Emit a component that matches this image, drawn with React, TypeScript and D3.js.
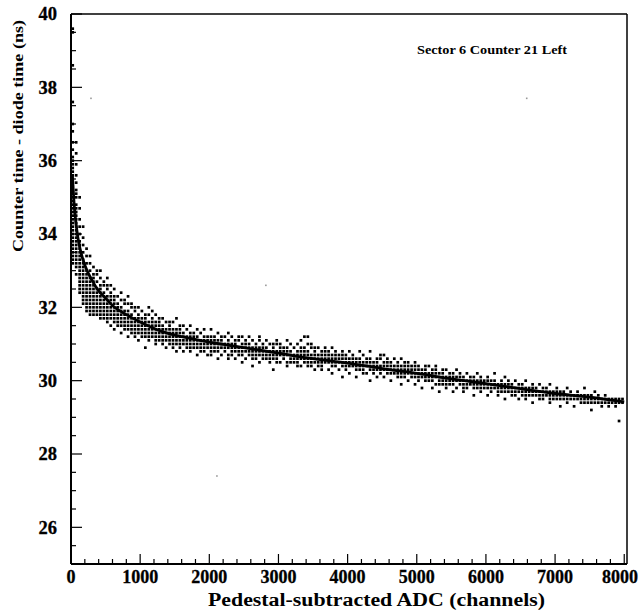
import React from "react";
import * as d3 from "d3";

const xTicks = [0, 1000, 2000, 3000, 4000, 5000, 6000, 7000, 8000];
const yTicks = [26, 28, 30, 32, 34, 36, 38, 40];

const fitX = [20, 50, 100, 150, 200, 300, 400, 500, 600, 800, 1000, 1300, 1600, 2000, 2500, 3000, 3500, 4000, 4500, 5000, 5500, 6000, 6500, 7000, 7500, 8000];
const fitY = [35.6, 34.7, 33.9, 33.45, 33.15, 32.75, 32.45, 32.25, 32.05, 31.8, 31.6, 31.35, 31.2, 31.05, 30.9, 30.75, 30.6, 30.48, 30.33, 30.2, 30.05, 29.92, 29.78, 29.65, 29.55, 29.42];

const binX = [
  25, 75, 125, 175, 225, 275, 325, 375, 425, 475, 525, 575, 625, 675, 725, 775, 825, 875, 925, 975,
  1025, 1075, 1125, 1175, 1225, 1275, 1325, 1375, 1425, 1475, 1525, 1575, 1625, 1675, 1725, 1775, 1825, 1875, 1925, 1975,
  2025, 2075, 2125, 2175, 2225, 2275, 2325, 2375, 2425, 2475, 2525, 2575, 2625, 2675, 2725, 2775, 2825, 2875, 2925, 2975,
  3025, 3075, 3125, 3175, 3225, 3275, 3325, 3375, 3425, 3475, 3525, 3575, 3625, 3675, 3725, 3775, 3825, 3875, 3925, 3975,
  4025, 4075, 4125, 4175, 4225, 4275, 4325, 4375, 4425, 4475, 4525, 4575, 4625, 4675, 4725, 4775, 4825, 4875, 4925, 4975,
  5025, 5075, 5125, 5175, 5225, 5275, 5325, 5375, 5425, 5475, 5525, 5575, 5625, 5675, 5725, 5775, 5825, 5875, 5925, 5975,
  6025, 6075, 6125, 6175, 6225, 6275, 6325, 6375, 6425, 6475, 6525, 6575, 6625, 6675, 6725, 6775, 6825, 6875, 6925, 6975,
  7025, 7075, 7125, 7175, 7225, 7275, 7325, 7375, 7425, 7475, 7525, 7575, 7625, 7675, 7725, 7775, 7825, 7875, 7925, 7975,
];

const binY: number[][] = [
  [33.2, 33.3, 33.4, 33.5, 33.6, 33.7, 33.8, 33.9, 34.0, 34.1, 34.2, 34.3, 34.4, 34.5, 34.6, 34.7, 34.8, 34.9, 35.0, 35.1, 35.2, 35.3, 35.4, 35.5, 35.6, 35.7, 35.8, 35.9, 36.0, 36.1, 36.3, 36.5, 36.8, 37.0, 37.6, 38.6, 39.5, 39.6],
  [32.9, 33.1, 33.2, 33.3, 33.4, 33.5, 33.6, 33.7, 33.8, 33.9, 34.0, 34.1, 34.2, 34.3, 34.4, 34.5, 34.6, 34.7, 34.8, 35.0, 35.1, 35.2, 35.4, 35.6, 35.9, 36.2, 36.5],
  [32.4, 32.5, 32.6, 32.7, 32.8, 32.9, 33.0, 33.1, 33.2, 33.3, 33.4, 33.5, 33.6, 33.7, 33.8, 34.0, 34.2, 34.4, 34.7, 35.0],
  [32.1, 32.2, 32.3, 32.4, 32.5, 32.6, 32.7, 32.8, 32.9, 33.0, 33.1, 33.2, 33.3, 33.5, 33.7, 33.9, 34.2],
  [31.9, 32.0, 32.1, 32.2, 32.3, 32.4, 32.5, 32.6, 32.7, 32.8, 32.9, 33.0, 33.2, 33.4, 33.6],
  [31.8, 31.9, 32.0, 32.1, 32.2, 32.3, 32.4, 32.5, 32.6, 32.7, 32.8, 33.0, 33.2, 33.4],
  [31.8, 31.9, 32.0, 32.1, 32.2, 32.3, 32.4, 32.5, 32.6, 32.7, 32.8, 32.9, 33.1],
  [31.8, 31.9, 32.0, 32.1, 32.2, 32.3, 32.4, 32.5, 32.7, 32.9, 33.0],
  [31.7, 31.8, 31.9, 32.0, 32.1, 32.2, 32.3, 32.4, 32.5, 32.6, 32.8, 33.0],
  [31.7, 31.8, 31.9, 32.0, 32.1, 32.2, 32.3, 32.4, 32.6, 32.7],
  [31.6, 31.7, 31.8, 31.9, 32.0, 32.1, 32.2, 32.3, 32.5, 32.6, 32.8],
  [31.5, 31.7, 31.8, 31.9, 32.0, 32.1, 32.2, 32.3, 32.4, 32.6],
  [31.4, 31.6, 31.7, 31.8, 31.9, 32.0, 32.1, 32.2, 32.3, 32.5],
  [31.5, 31.6, 31.7, 31.8, 31.9, 32.0, 32.1, 32.3],
  [31.3, 31.5, 31.6, 31.7, 31.8, 31.9, 32.0, 32.2, 32.4],
  [31.4, 31.5, 31.6, 31.7, 31.8, 31.9, 32.1, 32.2],
  [31.2, 31.4, 31.5, 31.6, 31.7, 31.8, 31.9, 32.1, 32.3],
  [31.3, 31.4, 31.5, 31.6, 31.7, 31.8, 32.0, 32.1],
  [31.2, 31.3, 31.4, 31.5, 31.6, 31.7, 31.9, 32.0],
  [31.1, 31.3, 31.4, 31.5, 31.6, 31.7, 31.8, 32.0],
  [31.2, 31.3, 31.4, 31.5, 31.6, 31.7, 31.9],
  [30.9, 31.2, 31.3, 31.4, 31.5, 31.6, 31.7, 31.8],
  [31.1, 31.2, 31.3, 31.4, 31.5, 31.6, 31.8, 32.0],
  [31.2, 31.3, 31.4, 31.5, 31.6, 31.7, 31.9],
  [31.0, 31.1, 31.2, 31.3, 31.4, 31.5, 31.6, 31.8],
  [31.1, 31.2, 31.3, 31.4, 31.5, 31.6, 31.7],
  [31.0, 31.1, 31.2, 31.3, 31.4, 31.5, 31.7],
  [30.9, 31.1, 31.2, 31.3, 31.4, 31.6],
  [31.0, 31.1, 31.2, 31.3, 31.4, 31.5, 31.6],
  [30.9, 31.0, 31.1, 31.2, 31.3, 31.4, 31.6],
  [30.8, 31.0, 31.1, 31.2, 31.3, 31.4, 31.7],
  [30.9, 31.0, 31.1, 31.2, 31.3, 31.4, 31.5],
  [30.8, 31.0, 31.1, 31.2, 31.3, 31.5],
  [30.9, 31.0, 31.1, 31.2, 31.4],
  [30.8, 30.9, 31.0, 31.1, 31.2, 31.3, 31.5],
  [30.9, 31.0, 31.1, 31.2, 31.3],
  [30.7, 30.9, 31.0, 31.1, 31.2, 31.4],
  [30.8, 30.9, 31.0, 31.1, 31.3],
  [30.8, 30.9, 31.0, 31.1, 31.2, 31.4],
  [30.7, 30.9, 31.0, 31.1, 31.2],
  [30.7, 30.8, 30.9, 31.0, 31.1, 31.2, 31.4],
  [30.8, 30.9, 31.0, 31.1, 31.2],
  [30.6, 30.8, 30.9, 31.0, 31.1, 31.3],
  [30.7, 30.9, 31.0, 31.1, 31.2],
  [30.8, 30.9, 31.0, 31.2],
  [30.6, 30.7, 30.9, 31.0, 31.1, 31.3],
  [30.7, 30.8, 30.9, 31.0, 31.2],
  [30.6, 30.8, 30.9, 31.0, 31.1],
  [30.7, 30.8, 30.9, 31.1, 31.2],
  [30.5, 30.7, 30.8, 30.9, 31.0, 31.2],
  [30.6, 30.8, 30.9, 31.0, 31.1],
  [30.7, 30.8, 30.9, 31.0, 31.2],
  [30.4, 30.6, 30.7, 30.8, 30.9, 31.1],
  [30.6, 30.7, 30.8, 30.9, 31.0],
  [30.5, 30.7, 30.8, 30.9, 31.1, 31.2],
  [30.6, 30.7, 30.8, 30.9, 31.0],
  [30.6, 30.7, 30.8, 30.9, 31.1],
  [30.5, 30.6, 30.7, 30.8, 31.0],
  [30.3, 30.6, 30.7, 30.8, 30.9, 31.0],
  [30.5, 30.6, 30.7, 30.8, 31.0, 31.1],
  [30.5, 30.7, 30.8, 30.9, 31.0],
  [30.6, 30.7, 30.8, 30.9],
  [30.4, 30.5, 30.7, 30.8, 30.9, 31.1],
  [30.5, 30.6, 30.7, 30.8, 31.0],
  [30.5, 30.6, 30.7, 30.9],
  [30.4, 30.5, 30.6, 30.7, 30.8, 31.0],
  [30.4, 30.6, 30.7, 30.8, 30.9, 31.1],
  [30.5, 30.6, 30.7, 30.8, 30.9, 31.2],
  [30.4, 30.5, 30.6, 30.7, 30.8, 31.0, 31.2],
  [30.4, 30.5, 30.6, 30.7, 30.9, 31.0],
  [30.3, 30.5, 30.6, 30.7, 30.8, 30.9],
  [30.4, 30.5, 30.6, 30.7, 30.9],
  [30.3, 30.4, 30.5, 30.6, 30.7, 30.8],
  [30.5, 30.6, 30.7, 30.8, 30.9],
  [30.3, 30.5, 30.6, 30.7, 30.8],
  [30.2, 30.4, 30.5, 30.6, 30.7, 30.9],
  [30.4, 30.5, 30.6, 30.7, 30.8],
  [30.3, 30.5, 30.6, 30.7],
  [30.1, 30.4, 30.5, 30.6, 30.7, 30.8],
  [30.3, 30.4, 30.5, 30.6, 30.7],
  [30.2, 30.4, 30.5, 30.6, 30.8],
  [30.4, 30.5, 30.6, 30.7],
  [30.1, 30.3, 30.4, 30.5, 30.6],
  [30.3, 30.4, 30.5, 30.6, 30.8],
  [30.2, 30.3, 30.4, 30.5, 30.7],
  [30.2, 30.4, 30.5, 30.6],
  [30.0, 30.3, 30.4, 30.5, 30.6, 30.8],
  [30.2, 30.3, 30.4, 30.5],
  [30.1, 30.3, 30.4, 30.5, 30.6],
  [30.2, 30.3, 30.4, 30.6, 30.7],
  [30.1, 30.3, 30.4, 30.5, 30.7],
  [30.2, 30.3, 30.4, 30.5, 30.6],
  [30.0, 30.2, 30.3, 30.4, 30.5],
  [30.2, 30.3, 30.4, 30.6],
  [30.1, 30.2, 30.3, 30.4, 30.5],
  [29.9, 30.1, 30.2, 30.3, 30.4, 30.6],
  [30.1, 30.2, 30.3, 30.4, 30.5],
  [30.0, 30.2, 30.3, 30.4, 30.5],
  [30.1, 30.2, 30.3, 30.4],
  [29.9, 30.1, 30.2, 30.3, 30.4, 30.5],
  [30.0, 30.1, 30.2, 30.3, 30.4],
  [29.8, 30.1, 30.2, 30.3],
  [30.0, 30.1, 30.2, 30.3, 30.4],
  [30.0, 30.1, 30.2, 30.4],
  [29.8, 30.0, 30.1, 30.2, 30.3],
  [29.9, 30.1, 30.2, 30.3, 30.4],
  [29.7, 29.9, 30.0, 30.1, 30.2],
  [29.9, 30.0, 30.1, 30.2, 30.3],
  [29.8, 29.9, 30.0, 30.1, 30.3],
  [29.9, 30.0, 30.1, 30.2],
  [29.7, 29.9, 30.0, 30.1, 30.2],
  [29.8, 30.0, 30.1, 30.3],
  [29.9, 30.0, 30.1, 30.2],
  [29.7, 29.8, 29.9, 30.0, 30.1],
  [29.8, 29.9, 30.0, 30.2],
  [29.9, 30.0, 30.1],
  [29.6, 29.8, 29.9, 30.0, 30.1],
  [29.8, 29.9, 30.0, 30.2],
  [29.7, 29.8, 29.9, 30.0, 30.1],
  [29.8, 29.9, 30.0],
  [29.6, 29.8, 29.9, 30.0, 30.1],
  [29.7, 29.8, 29.9, 30.0],
  [29.8, 29.9, 30.0, 30.2],
  [29.6, 29.7, 29.8, 29.9],
  [29.7, 29.8, 29.9, 30.0],
  [29.5, 29.7, 29.8, 29.9, 30.1],
  [29.7, 29.8, 29.9, 30.0],
  [29.6, 29.7, 29.8, 29.9],
  [29.6, 29.7, 29.8, 30.0],
  [29.5, 29.7, 29.8, 29.9],
  [29.6, 29.7, 29.8, 29.9],
  [29.5, 29.6, 29.7, 29.8, 30.0],
  [29.6, 29.7, 29.8],
  [29.4, 29.6, 29.7, 29.8, 29.9],
  [29.6, 29.7, 29.8],
  [29.5, 29.6, 29.7, 29.9],
  [29.5, 29.6, 29.7, 29.8],
  [29.6, 29.7, 29.8],
  [29.4, 29.5, 29.6, 29.7, 29.9],
  [29.5, 29.6, 29.7],
  [29.5, 29.6, 29.7, 29.8],
  [29.3, 29.5, 29.6, 29.7],
  [29.5, 29.6, 29.7],
  [29.4, 29.5, 29.6, 29.8],
  [29.5, 29.6, 29.7],
  [29.3, 29.5, 29.6],
  [29.5, 29.6, 29.7],
  [29.4, 29.5, 29.6],
  [29.4, 29.5, 29.6, 29.8],
  [29.4, 29.5, 29.6],
  [29.2, 29.4, 29.5, 29.6],
  [29.4, 29.5, 29.7],
  [29.4, 29.5, 29.6],
  [29.3, 29.4, 29.5],
  [29.4, 29.5, 29.6],
  [29.3, 29.4, 29.5],
  [29.4, 29.5],
  [29.3, 29.4, 29.5],
  [28.9, 29.4, 29.5],
  [29.4, 29.5],
];

const strayX = [289, 2818, 2110, 6590];
const strayY = [37.7, 32.6, 27.4, 37.7];

const W = 643;
const H = 610;
const FONT = "'Liberation Serif', 'Times New Roman', serif";

export default function App() {
  const x = d3.scaleLinear().domain([0, 8040]).range([71, 627]);
  const y = d3.scaleLinear().domain([25, 40]).range([564, 14]);
  const [x0, x1] = x.range();
  const [yb, yt] = y.range();

  const xMinor = d3.range(0, 8001, 200);
  const yMinor = d3.range(25, 40.01, 0.5);

  const fitLine = d3
    .line<number>()
    .x((_, i) => x(fitX[i]))
    .y((d) => y(d))
    .curve(d3.curveMonotoneX)(fitY);

  const pts: { cx: number; cy: number }[] = [];
  binX.forEach((bx, i) => {
    (binY[i] || []).forEach((v) => pts.push({ cx: x(bx), cy: y(v) }));
  });

  const s = 2.7;

  return (
    <svg
      width={W}
      height={H}
      style={{ position: "absolute", left: 0, top: 0, background: "#fff" }}
      fontFamily={FONT}
    >
      <rect x={0} y={0} width={W} height={H} fill="#fff" />
      {pts.map((p, i) => (
        <rect key={i} x={p.cx - s / 2} y={p.cy - s / 2} width={s} height={s} fill="#000" />
      ))}
      {strayX.map((v, i) => (
        <rect key={"s" + i} x={x(v) - 0.8} y={y(strayY[i]) - 0.8} width={1.6} height={1.6} fill="#999" />
      ))}
      <path d={fitLine || ""} fill="none" stroke="#000" strokeWidth={2.8} />
      <line x1={x0} x2={x1} y1={yt} y2={yt} stroke="#000" strokeWidth={1.5} />
      <line x1={x1} x2={x1} y1={yt} y2={yb} stroke="#000" strokeWidth={1.5} />
      <line x1={x0} x2={x1} y1={yb} y2={yb} stroke="#000" strokeWidth={2} />
      <line x1={x0} x2={x0} y1={yt} y2={yb} stroke="#000" strokeWidth={2} />
      {xMinor.map((v) => {
        const major = v % 1000 === 0;
        return (
          <line key={"xt" + v} x1={x(v)} x2={x(v)} y1={yb} y2={yb - (major ? 10 : 5)} stroke="#000" strokeWidth={1.2} />
        );
      })}
      {xTicks.map((v) => (
        <text
          key={"xl" + v}
          x={Math.min(x(v), 620)}
          y={583}
          textAnchor="middle"
          fontSize={18}
          fontWeight="bold"
          stroke="#000"
          strokeWidth={0.3}
        >
          {v}
        </text>
      ))}
      {yMinor.map((v) => {
        const major = Math.abs(v % 2) < 1e-6;
        return (
          <line key={"yt" + v} x1={x0} x2={x0 + (major ? 11 : 5)} y1={y(v)} y2={y(v)} stroke="#000" strokeWidth={1.2} />
        );
      })}
      {yTicks.map((v) => (
        <text
          key={"yl" + v}
          x={57}
          y={y(v)}
          dy="0.35em"
          textAnchor="end"
          fontSize={18.5}
          fontWeight="bold"
          stroke="#000"
          strokeWidth={0.3}
        >
          {v}
        </text>
      ))}
      <text
        x={208}
        y={606}
        fontSize={18.5}
        fontWeight="bold"
        textLength={337}
        lengthAdjust="spacingAndGlyphs"
      >
        Pedestal-subtracted ADC (channels)
      </text>
      <text
        transform={`translate(23, 252) rotate(-90)`}
        fontSize={14.5}
        fontWeight="bold"
        textLength={232}
        lengthAdjust="spacingAndGlyphs"
      >
        Counter time - diode time (ns)
      </text>
      <text x={417} y={54} fontSize={13} fontWeight="bold" textLength={150} lengthAdjust="spacingAndGlyphs">
        Sector 6 Counter 21 Left
      </text>
    </svg>
  );
}
